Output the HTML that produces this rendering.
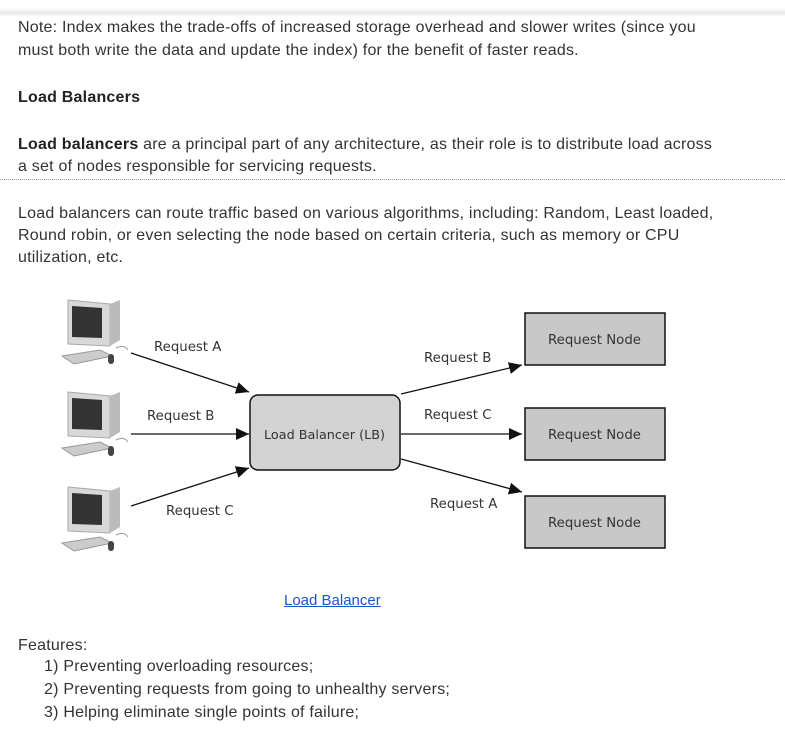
<!DOCTYPE html>
<html><head><meta charset="utf-8"><style>
body{margin:0;width:785px;height:733px;background:#fff;font-family:"Liberation Sans",Arial,sans-serif;font-size:16px;color:#333;position:relative;overflow:hidden}
.t{position:absolute;left:18px;white-space:nowrap;line-height:22px;letter-spacing:0.22px}
.shadow{position:absolute;left:0;top:0;width:785px;height:16px;background:linear-gradient(#fff 0,#fff 8px,#e8e8e8 13px,#fff 17px)}
svg{position:absolute;left:0;top:0}
</style></head><body>
<div class="shadow"></div>
<div class="t" style="top:17px">Note: Index makes the trade-offs of increased storage overhead and slower writes (since you</div>
<div class="t" style="top:40px">must both write the data and update the index) for the benefit of faster reads.</div>
<div class="t" style="top:87px;font-weight:bold;color:#222">Load Balancers</div>
<div class="t" style="top:134px"><b style="color:#222">Load balancers</b> are a principal part of any architecture, as their role is to distribute load across</div>
<div class="t" style="top:156px">a set of nodes responsible for servicing requests.</div>
<div style="position:absolute;left:0;top:179px;width:785px;border-top:1px dotted #999"></div>
<div class="t" style="top:203px">Load balancers can route traffic based on various algorithms, including: Random, Least loaded,</div>
<div class="t" style="top:225px">Round robin, or even selecting the node based on certain criteria, such as memory or CPU</div>
<div class="t" style="top:247px">utilization, etc.</div>
<svg width="785" height="733" viewBox="0 0 785 733">
<defs>
<marker id="a" markerWidth="14" markerHeight="14" refX="13" refY="6" orient="auto" markerUnits="userSpaceOnUse"><path d="M0,0L13,6L0,12z" fill="#111"/></marker>
<g id="pc">
<path d="M8,2 L50,6 L50,48 L8,46z" fill="#d8d8d8" stroke="#aaa"/>
<path d="M12,8 L42,10 L42,40 L12,39z" fill="#333"/>
<path d="M50,6 L60,2 L60,42 L50,48z" fill="#bbb"/>
<path d="M2,58 L40,52 L52,58 L14,66z" fill="#ccc" stroke="#999"/>
<rect x="48" y="56" width="6" height="10" rx="3" fill="#444"/>
<path d="M56,50 q8,-4 12,2" fill="none" stroke="#999"/>
</g>
</defs>
<use href="#pc" x="60" y="298"/>
<use href="#pc" x="60" y="390"/>
<use href="#pc" x="60" y="485"/>
<g stroke="#111" stroke-width="1.3" marker-end="url(#a)">
<line x1="131" y1="353" x2="249" y2="392"/>
<line x1="131" y1="434" x2="249" y2="434"/>
<line x1="131" y1="506" x2="249" y2="468"/>
<line x1="401" y1="394" x2="522" y2="365"/>
<line x1="401" y1="434" x2="522" y2="434"/>
<line x1="401" y1="459" x2="522" y2="492"/>
</g>
<rect x="250" y="395" width="150" height="75" rx="8" fill="#d3d3d3" stroke="#111" stroke-width="1.5"/>
<rect x="525" y="313" width="140" height="52" fill="#c8c8c8" stroke="#111" stroke-width="1.5"/>
<rect x="525" y="408" width="140" height="52" fill="#c8c8c8" stroke="#111" stroke-width="1.5"/>
<rect x="525" y="496" width="140" height="52" fill="#c8c8c8" stroke="#111" stroke-width="1.5"/>
<g font-family="DejaVu Sans,sans-serif" font-size="13.3" fill="#333">
<text x="154" y="351">Request A</text>
<text x="147" y="420">Request B</text>
<text x="166" y="515">Request C</text>
<text x="264" y="439" font-size="12.8">Load Balancer (LB)</text>
<text x="424" y="362">Request B</text>
<text x="424" y="419">Request C</text>
<text x="430" y="508">Request A</text>
<text x="548" y="344">Request Node</text>
<text x="548" y="439">Request Node</text>
<text x="548" y="527">Request Node</text>
</g>
</svg>
<div class="t" style="top:590px;left:284px;font-size:15px;color:#1a57c6;text-decoration:underline;letter-spacing:0">Load Balancer</div>
<div class="t" style="top:635px">Features:</div>
<div class="t" style="top:656px;left:44px">1) Preventing overloading resources;</div>
<div class="t" style="top:679px;left:44px">2) Preventing requests from going to unhealthy servers;</div>
<div class="t" style="top:702px;left:44px">3) Helping eliminate single points of failure;</div>
</body></html>
